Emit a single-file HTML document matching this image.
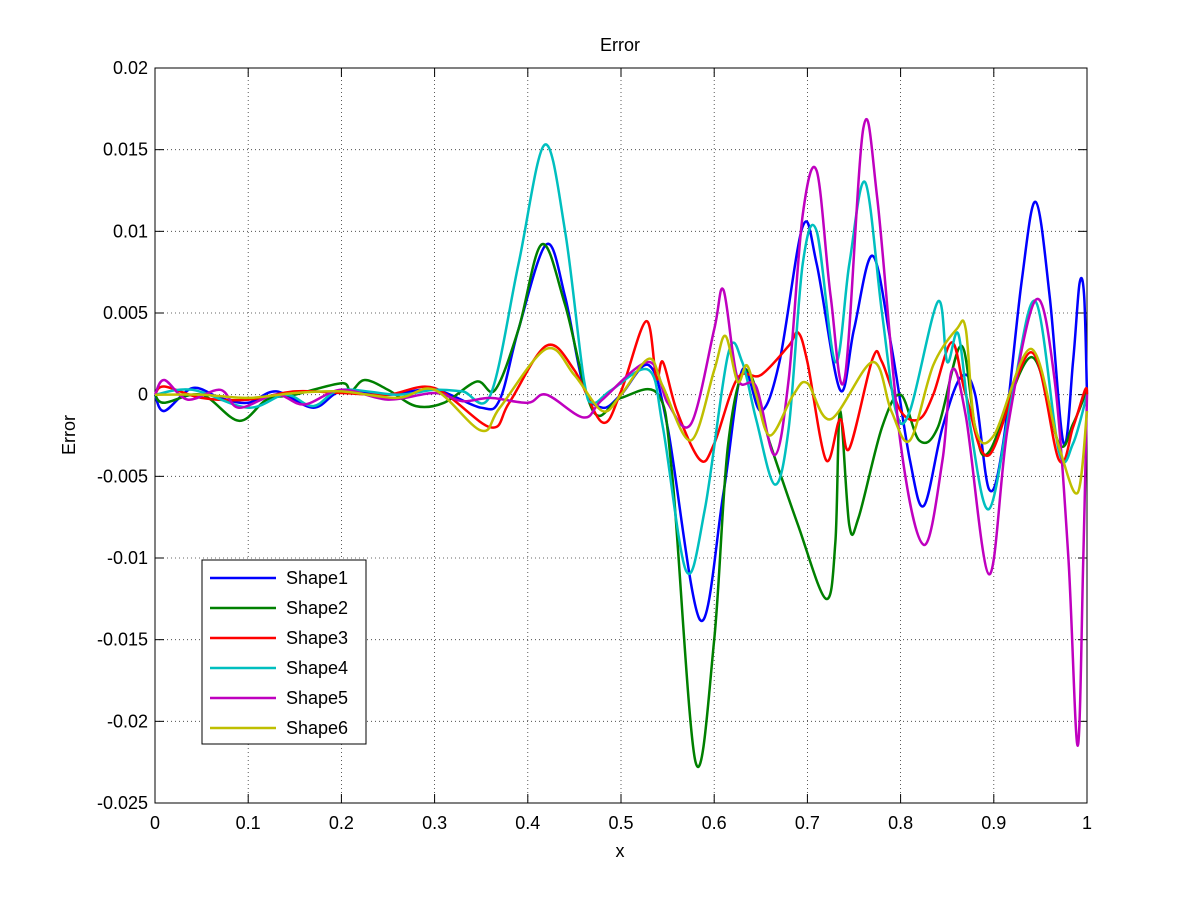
<!DOCTYPE html>
<html><head><meta charset="utf-8"><style>
html,body{margin:0;padding:0;background:#fff;}
svg text{font-family:"Liberation Sans",Arial,sans-serif;fill:#000;}
</style></head><body>
<svg id="s" width="1201" height="901" viewBox="0 0 1201 901" xmlns="http://www.w3.org/2000/svg">
<rect width="1201" height="901" fill="#fff"/>
<g id="grid" stroke="#000" stroke-width="0.8" stroke-dasharray="1,3" opacity="0.8"></g>
<rect x="155" y="68" width="932" height="735" fill="none" stroke="#000" stroke-width="1"/>
<g id="ticks" stroke="#000" stroke-width="1"></g>
<g id="labels" font-size="18"></g>
<g id="series" fill="none" stroke-width="2.5" stroke-linejoin="round"></g>
<text x="620" y="51" font-size="18" text-anchor="middle">Error</text>
<text x="620" y="857" font-size="18" text-anchor="middle">x</text>
<text transform="translate(75,435) rotate(-90)" font-size="18" text-anchor="middle">Error</text>
<rect x="202" y="560" width="164" height="184" fill="#fff" stroke="#000" stroke-width="1"/>
<g id="legend" font-size="18"></g>
</svg>
<script>
const X0=155,X1=1087,Y0=68,Y1=803;
const px=x=>X0+(X1-X0)*x, py=v=>Y0+(0.02-v)/0.045*(Y1-Y0);
const NS="http://www.w3.org/2000/svg";
function el(p,t,a,txt){const e=document.createElementNS(NS,t);for(const k in a)e.setAttribute(k,a[k]);if(txt!==undefined)e.textContent=txt;document.getElementById(p).appendChild(e);}
for(let i=0;i<=10;i++){const x=px(i/10);
 if(i>0&&i<10)el("grid","line",{x1:x,y1:Y0,x2:x,y2:Y1});
 el("ticks","line",{x1:x,y1:Y1,x2:x,y2:Y1-9});el("ticks","line",{x1:x,y1:Y0,x2:x,y2:Y0+9});
 el("labels","text",{x:x,y:829,"text-anchor":"middle"},i==0?"0":i==10?"1":(i/10).toString());}
for(let j=0;j<=9;j++){const v=0.02-j*0.005;const y=py(v);
 if(j>0&&j<9)el("grid","line",{x1:X0,y1:y,x2:X1,y2:y});
 el("ticks","line",{x1:X0,y1:y,x2:X0+9,y2:y});el("ticks","line",{x1:X1,y1:y,x2:X1-9,y2:y});
 let s=Math.abs(v)<1e-9?"0":parseFloat(v.toFixed(3)).toString();
 el("labels","text",{x:148,y:y+6,"text-anchor":"end"},s);}
const D={
"#0000ff":[[0,0],[0.01,-0.001],[0.04,0.0004],[0.07,-0.0002],[0.1,-0.0005],[0.13,0.0002],[0.17,-0.0008],[0.2,0.0002],[0.25,0],[0.3,0.0003],[0.35,-0.0008],[0.37,-0.0003],[0.39,0.004],[0.42,0.0092],[0.44,0.006],[0.46,0.0005],[0.48,-0.0008],[0.5,0],[0.53,0.0018],[0.55,-0.002],[0.585,-0.0138],[0.61,-0.006],[0.63,0.0015],[0.65,-0.001],[0.67,0.002],[0.695,0.0103],[0.71,0.008],[0.735,0.0003],[0.75,0.004],[0.77,0.0085],[0.79,0.003],[0.81,-0.004],[0.825,-0.0068],[0.845,-0.002],[0.865,0.0011],[0.88,0],[0.895,-0.0058],[0.91,-0.003],[0.93,0.007],[0.945,0.0118],[0.96,0.006],[0.975,-0.003],[0.985,0.002],[0.992,0.0068],[0.997,0.006],[1,0]],
"#008000":[[0,0],[0.01,-0.0005],[0.05,0],[0.09,-0.0016],[0.12,-0.0003],[0.15,0],[0.2,0.0007],[0.21,0.0002],[0.225,0.0009],[0.25,0.0003],[0.28,-0.0007],[0.31,-0.0005],[0.345,0.0008],[0.365,0.0003],[0.39,0.004],[0.415,0.0092],[0.44,0.0055],[0.47,-0.001],[0.5,-0.0002],[0.54,0],[0.555,-0.005],[0.58,-0.0225],[0.6,-0.015],[0.615,-0.003],[0.635,0.0015],[0.66,-0.003],[0.69,-0.008],[0.72,-0.0125],[0.73,-0.009],[0.735,-0.001],[0.745,-0.008],[0.755,-0.0075],[0.78,-0.002],[0.8,0],[0.82,-0.0028],[0.84,-0.002],[0.865,0.003],[0.88,-0.002],[0.895,-0.0035],[0.94,0.0023],[0.97,-0.003],[0.985,-0.0018],[1,0.0003]],
"#ff0000":[[0,0],[0.01,0.0005],[0.05,-0.0002],[0.1,-0.0003],[0.15,0.0002],[0.2,0.0001],[0.25,0],[0.3,0.0004],[0.36,-0.002],[0.38,-0.0005],[0.42,0.003],[0.45,0.0015],[0.48,-0.0017],[0.5,0.0002],[0.527,0.0045],[0.538,0.001],[0.545,0.002],[0.56,-0.001],[0.585,-0.004],[0.6,-0.003],[0.625,0.001],[0.65,0.0012],[0.68,0.003],[0.69,0.0038],[0.7,0.002],[0.72,-0.004],[0.735,-0.0015],[0.745,-0.0033],[0.77,0.0022],[0.78,0.002],[0.8,-0.001],[0.82,-0.0015],[0.835,0],[0.855,0.0032],[0.87,0],[0.895,-0.0037],[0.94,0.0026],[0.97,-0.004],[0.985,-0.002],[0.998,0.0003],[1,0]],
"#00bfbf":[[0,0],[0.04,0.0003],[0.1,-0.0008],[0.14,0],[0.17,-0.0007],[0.2,0.0003],[0.26,0],[0.3,0.0003],[0.33,0.0002],[0.36,0],[0.39,0.008],[0.418,0.0153],[0.44,0.01],[0.46,0.001],[0.47,-0.0005],[0.49,0.0003],[0.53,0.0015],[0.545,-0.002],[0.57,-0.0108],[0.59,-0.007],[0.615,0.0025],[0.63,0.002],[0.645,-0.0015],[0.665,-0.0055],[0.68,-0.002],[0.695,0.008],[0.71,0.01],[0.73,0.002],[0.745,0.008],[0.762,0.013],[0.78,0.005],[0.795,-0.001],[0.81,-0.001],[0.84,0.0057],[0.85,0.002],[0.862,0.0037],[0.875,-0.002],[0.895,-0.007],[0.92,0],[0.945,0.0057],[0.97,-0.0035],[0.985,-0.003],[1,0]],
"#bf00bf":[[0,0],[0.01,0.0009],[0.035,-0.0003],[0.07,0.0003],[0.09,-0.0008],[0.13,0],[0.16,-0.0006],[0.2,0.0003],[0.25,-0.0003],[0.3,0.0001],[0.33,-0.0004],[0.36,-0.0002],[0.4,-0.0005],[0.42,0],[0.46,-0.0014],[0.48,-0.0003],[0.53,0.002],[0.55,-0.0005],[0.575,-0.0018],[0.6,0.004],[0.61,0.0064],[0.625,0.001],[0.645,0.0005],[0.665,-0.0037],[0.68,0.001],[0.695,0.011],[0.71,0.0137],[0.725,0.006],[0.74,0.001],[0.76,0.0163],[0.775,0.012],[0.8,-0.003],[0.825,-0.0092],[0.845,-0.004],[0.855,0.0015],[0.87,-0.0013],[0.895,-0.011],[0.915,-0.002],[0.945,0.0058],[0.965,0.001],[0.98,-0.01],[0.99,-0.0215],[0.996,-0.01],[1,0]],
"#bfbf00":[[0,0],[0.05,0],[0.1,-0.0002],[0.15,0.0001],[0.2,0.0002],[0.26,-0.0002],[0.3,0.0003],[0.35,-0.0022],[0.37,-0.0008],[0.42,0.0028],[0.45,0.0012],[0.48,-0.001],[0.5,0],[0.53,0.0022],[0.545,0.0005],[0.575,-0.0028],[0.6,0.0015],[0.612,0.0036],[0.625,0.0008],[0.635,0.0018],[0.645,0],[0.66,-0.0025],[0.685,0],[0.7,0.0007],[0.725,-0.0015],[0.77,0.002],[0.79,-0.001],[0.81,-0.0028],[0.835,0.0018],[0.86,0.004],[0.87,0.004],[0.88,-0.002],[0.9,-0.0025],[0.94,0.0028],[0.97,-0.0032],[0.99,-0.006],[1,-0.001]]};
function path(pts){const P=pts.map(p=>[px(p[0]),py(p[1])]);let d="M"+P[0][0].toFixed(1)+","+P[0][1].toFixed(1);
 for(let i=0;i<P.length-1;i++){const p0=P[Math.max(0,i-1)],p1=P[i],p2=P[i+1],p3=P[Math.min(P.length-1,i+2)];
  const c1=[p1[0]+(p2[0]-p0[0])/6,p1[1]+(p2[1]-p0[1])/6],c2=[p2[0]-(p3[0]-p1[0])/6,p2[1]-(p3[1]-p1[1])/6];
  d+="C"+c1.map(v=>v.toFixed(1))+" "+c2.map(v=>v.toFixed(1))+" "+p2.map(v=>v.toFixed(1));}
 return d;}
let k=0;
for(const c in D){el("series","path",{d:path(D[c]),stroke:c});
 const y=578+k*30;el("legend","line",{x1:210,y1:y,x2:276,y2:y,stroke:c,"stroke-width":2.5});
 el("legend","text",{x:286,y:y+6},"Shape"+(k+1));k++;}
</script>
</body></html>
